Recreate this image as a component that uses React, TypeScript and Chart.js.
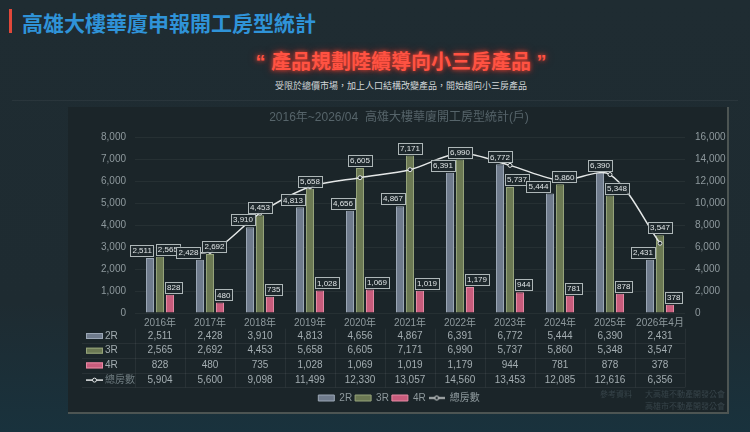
import React, { useEffect, useRef } from 'react';
import { Chart, registerables } from 'chart.js';

Chart.register(...registerables);

const categories = ['2016年', '2017年', '2018年', '2019年', '2020年', '2021年', '2022年', '2023年', '2024年', '2025年', '2026年4月'];
const series2R = [2511, 2428, 3910, 4813, 4656, 4867, 6391, 6772, 5444, 6390, 2431];
const series3R = [2565, 2692, 4453, 5658, 6605, 7171, 6990, 5737, 5860, 5348, 3547];
const series4R = [828, 480, 735, 1028, 1069, 1019, 1179, 944, 781, 878, 378];
const seriesTotal = [5904, 5600, 9098, 11499, 12330, 13057, 14560, 13453, 12085, 12616, 6356];
const seriesNames = ['2R', '3R', '4R', '總房數'];
const leftAxisMax = 8000;
const leftAxisStep = 1000;
const rightAxisMax = 16000;
const rightAxisStep = 2000;

const chartTitle = '2016年~2026/04  高雄大樓華廈開工房型統計(戶)';
const pageTitle = '高雄大樓華廈申報開工房型統計';
const headline = '“ 產品規劃陸續導向小三房產品 ”';
const subline = '受限於總價市場，加上人口結構改變產品，開始趨向小三房產品';
const sourceLabel = '參考資料';
const sourceLines = ['大高雄不動產開發公會', '高雄市不動產開發公會'];

const barFill = ['#6f7b8c', '#6b7853', '#c85c7c'];
const barBorder = ['#9ba7b5', '#95a37a', '#e68aa4'];
const lineColor = '#e4e7e7';
const FONT = '"Liberation Sans", "Noto Sans CJK TC", sans-serif';

Chart.defaults.font.family = FONT;

const fmt = (v: number) => v.toLocaleString('en-US');

const labelPlugin = {
  id: 'barValueLabels',
  afterDatasetsDraw(chart: any) {
    const ctx = chart.ctx as CanvasRenderingContext2D;
    ctx.save();
    ctx.font = `8px ${FONT}`;
    ctx.textAlign = 'center';
    ctx.textBaseline = 'middle';
    const metas = [0, 1, 2].map((i) => chart.getDatasetMeta(i));
    const n = categories.length;
    for (let i = 0; i < n; i++) {
      const bars = metas.map((m: any) => m.data[i]);
      const boxes = bars.map((b: any, k: number) => {
        const text = fmt(chart.data.datasets[k].data[i]);
        const w = ctx.measureText(text).width + 4;
        const h = 11;
        return { text, w, h, x: b.x - w / 2, y: b.y - 2 - h };
      });
      boxes.forEach((box: any, k: number) => {
        bars.forEach((ob: any, j: number) => {
          if (j === k) return;
          const l = ob.x - ob.width / 2;
          const r = ob.x + ob.width / 2;
          if (box.y + box.h > ob.y && box.x < r && box.x + box.w > l) {
            if (j > k) box.x = l - 1 - box.w;
            else box.x = r + 1;
          }
        });
      });
      for (let a = 0; a < boxes.length; a++) {
        for (let b = a + 1; b < boxes.length; b++) {
          const A = boxes[a];
          const B = boxes[b];
          const ov = A.x + A.w + 2 - B.x;
          const vy = A.y < B.y + B.h && B.y < A.y + A.h;
          if (ov > 0 && vy) {
            A.x -= ov / 2;
            B.x += ov / 2;
          }
        }
      }
      boxes.forEach((box: any) => {
        ctx.fillStyle = 'rgba(30,40,44,0.92)';
        ctx.fillRect(box.x, box.y, box.w, box.h);
        ctx.strokeStyle = '#aeb7b8';
        ctx.lineWidth = 1;
        ctx.strokeRect(Math.round(box.x) + 0.5, Math.round(box.y) + 0.5, Math.round(box.w), Math.round(box.h));
        ctx.fillStyle = '#dfe4e5';
        ctx.fillText(box.text, box.x + box.w / 2, box.y + box.h / 2 + 0.5);
      });
    }
    ctx.restore();
  },
};

const tablePlugin = {
  id: 'dataTable',
  afterDraw(chart: any) {
    const ctx = chart.ctx as CanvasRenderingContext2D;
    const x = chart.scales.x;
    const top = x.top;
    const rowH = 14.7;
    const rows = [0, 1, 2, 3].map((r) => top + 23 + r * rowH);
    const half = (x.getPixelForValue(1) - x.getPixelForValue(0)) / 2;
    const tLeft = 12;
    const tRight = x.right;
    const tTop = rows[0] - rowH / 2;
    const tBottom = rows[3] + rowH / 2;
    ctx.save();
    ctx.strokeStyle = 'rgba(255,255,255,0.06)';
    ctx.lineWidth = 1;
    for (let r = 1; r <= 4; r++) {
      const y = Math.round(tTop + r * rowH) + 0.5;
      ctx.beginPath();
      ctx.moveTo(tLeft, y);
      ctx.lineTo(tRight, y);
      ctx.stroke();
    }
    for (let i = 0; i <= categories.length; i++) {
      const xx = Math.round(x.getPixelForValue(0) - half + i * half * 2) + 0.5;
      ctx.beginPath();
      ctx.moveTo(xx, tTop);
      ctx.lineTo(xx, tBottom);
      ctx.stroke();
    }
    const data = [series2R, series3R, series4R, seriesTotal];
    ctx.font = `10px ${FONT}`;
    ctx.textBaseline = 'middle';
    rows.forEach((y, r) => {
      if (r < 3) {
        ctx.fillStyle = barFill[r];
        ctx.fillRect(16, y - 3, 17, 6);
        ctx.strokeStyle = barBorder[r];
        ctx.strokeRect(16.5, y - 2.5, 16, 5);
        ctx.fillStyle = '#a3adb1';
      } else {
        ctx.strokeStyle = lineColor;
        ctx.lineWidth = 1.5;
        ctx.beginPath();
        ctx.moveTo(16, y);
        ctx.lineTo(33, y);
        ctx.stroke();
        ctx.beginPath();
        ctx.arc(24.5, y, 2, 0, Math.PI * 2);
        ctx.fillStyle = '#1b2529';
        ctx.fill();
        ctx.lineWidth = 1;
        ctx.stroke();
        ctx.fillStyle = '#6f7c80';
      }
      ctx.textAlign = 'left';
      ctx.fillText(seriesNames[r], 35, y);
      ctx.fillStyle = '#a3adb1';
      ctx.textAlign = 'center';
      data[r].forEach((v, i) => {
        ctx.fillText(fmt(v), x.getPixelForValue(i), y);
      });
    });
    ctx.restore();
  },
};

export default function App() {
  const ref = useRef<HTMLCanvasElement>(null);

  useEffect(() => {
    const canvas = ref.current!;
    const lineIcon = document.createElement('canvas');
    lineIcon.width = 16;
    lineIcon.height = 7;
    const lc = lineIcon.getContext('2d')!;
    lc.strokeStyle = lineColor;
    lc.lineWidth = 1.5;
    lc.beginPath();
    lc.moveTo(0, 3.5);
    lc.lineTo(16, 3.5);
    lc.stroke();
    lc.beginPath();
    lc.arc(8, 3.5, 2, 0, Math.PI * 2);
    lc.fillStyle = '#1b2529';
    lc.fill();
    lc.lineWidth = 1;
    lc.stroke();

    const barSets = [series2R, series3R, series4R].map((d, k) => ({
      type: 'bar' as const,
      label: seriesNames[k],
      data: d,
      backgroundColor: barFill[k],
      borderColor: barBorder[k],
      borderWidth: 1,
      yAxisID: 'y',
      order: 2,
      categoryPercentage: 0.6,
      barPercentage: 0.8,
    }));

    const chart = new Chart(canvas, {
      type: 'bar',
      data: {
        labels: categories,
        datasets: [
          ...barSets,
          {
            type: 'line' as const,
            label: seriesNames[3],
            data: seriesTotal,
            yAxisID: 'y1',
            borderColor: lineColor,
            borderWidth: 1.5,
            tension: 0.3,
            pointRadius: 2,
            pointBackgroundColor: '#1b2529',
            pointBorderColor: lineColor,
            pointBorderWidth: 1,
            order: 0,
          } as any,
        ],
      },
      options: {
        responsive: false,
        maintainAspectRatio: false,
        animation: false,
        layout: { padding: 0 },
        plugins: {
          tooltip: { enabled: false },
          title: {
            display: true,
            text: chartTitle,
            color: '#56646a',
            font: { size: 12, weight: 'normal' },
            padding: { top: 3, bottom: 13 },
          },
          legend: {
            position: 'bottom',
            labels: {
              color: '#8e999d',
              font: { size: 10 },
              usePointStyle: true,
              pointStyleWidth: 16,
              boxWidth: 16,
              boxHeight: 6,
              padding: 3,
              generateLabels(ch: any) {
                const items = (Chart.defaults.plugins.legend.labels as any).generateLabels(ch);
                items.sort((a: any, b: any) => a.datasetIndex - b.datasetIndex);
                items.forEach((it: any) => {
                  it.pointStyle = it.datasetIndex === 3 ? lineIcon : 'rect';
                });
                return items;
              },
            },
          },
        },
        scales: {
          x: {
            grid: { display: false, drawTicks: false },
            border: { display: false },
            ticks: { color: '#8e999d', font: { size: 10 }, padding: 4, maxRotation: 0, autoSkip: false },
            afterFit: (s: any) => {
              s.height = 77;
            },
          },
          y: {
            position: 'left',
            min: 0,
            max: leftAxisMax,
            grid: { color: 'rgba(255,255,255,0.05)', drawTicks: false },
            border: { display: false },
            ticks: {
              stepSize: leftAxisStep,
              color: '#8e999d',
              font: { size: 10 },
              padding: 9,
              callback: (v: any) => fmt(Number(v)),
            },
            afterFit: (s: any) => {
              s.width = 65;
            },
          },
          y1: {
            position: 'right',
            min: 0,
            max: rightAxisMax,
            grid: { display: false, drawTicks: false },
            border: { display: false },
            ticks: {
              stepSize: rightAxisStep,
              color: '#8e999d',
              font: { size: 10 },
              padding: 10,
              callback: (v: any) => fmt(Number(v)),
            },
            afterFit: (s: any) => {
              s.width = 43;
            },
          },
        },
      } as any,
      plugins: [labelPlugin, tablePlugin],
    });
    return () => chart.destroy();
  }, []);

  return (
    <div
      style={{
        position: 'fixed',
        left: 0,
        top: 0,
        width: 750,
        height: 432,
        overflow: 'hidden',
        background: 'linear-gradient(180deg, #1f2c32 0%, #1e2b31 70%, #19323d 100%)',
        fontFamily: FONT,
      }}
    >
      <div style={{ position: 'absolute', left: 9, top: 9, width: 3, height: 24, background: '#e0483a' }} />
      <div
        style={{
          position: 'absolute',
          left: 22,
          top: 7,
          fontSize: 21,
          lineHeight: '30px',
          fontWeight: 700,
          color: '#2f93d8',
          fontFamily: '"Noto Sans CJK TC", sans-serif',
          whiteSpace: 'nowrap',
        }}
      >
        {pageTitle}
      </div>
      <div
        style={{
          position: 'absolute',
          left: 0,
          width: 802,
          top: 48,
          textAlign: 'center',
          fontSize: 20,
          lineHeight: '28px',
          fontWeight: 700,
          color: '#ff5242',
          textShadow: '0 0 4px rgba(255,70,50,0.9), 0 0 9px rgba(255,40,30,0.5)',
          whiteSpace: 'nowrap',
          fontFamily: '"Liberation Sans", "Noto Sans CJK TC", sans-serif',
        }}
      >
        {headline}
      </div>
      <div
        style={{
          position: 'absolute',
          left: 0,
          width: 802,
          top: 79,
          textAlign: 'center',
          fontSize: 9,
          lineHeight: '14px',
          color: '#d2d6d8',
          whiteSpace: 'nowrap',
          fontFamily: '"Noto Sans CJK TC", sans-serif',
        }}
      >
        {subline}
      </div>
      <div style={{ position: 'absolute', left: 12, top: 100, width: 726, height: 1, background: 'rgba(255,255,255,0.05)' }} />
      <div
        style={{
          position: 'absolute',
          left: 68,
          top: 107,
          width: 661,
          height: 307,
          boxSizing: 'border-box',
          background: '#1b2529',
          borderRight: '2px solid #4d5553',
          borderBottom: '2px solid #4d5553',
        }}
      />
      <canvas ref={ref} width={658} height={306} style={{ position: 'absolute', left: 70, top: 107 }} />
      <div style={{ position: 'absolute', left: 600, top: 388, fontSize: 8, lineHeight: '12px', color: '#37444a', fontFamily: '"Noto Sans CJK TC", sans-serif' }}>
        {sourceLabel}
      </div>
      <div
        style={{
          position: 'absolute',
          right: 25,
          top: 388,
          fontSize: 8,
          lineHeight: '12px',
          color: '#37444a',
          textAlign: 'right',
          fontFamily: '"Noto Sans CJK TC", sans-serif',
        }}
      >
        {sourceLines.map((s) => (
          <div key={s}>{s}</div>
        ))}
      </div>
    </div>
  );
}
